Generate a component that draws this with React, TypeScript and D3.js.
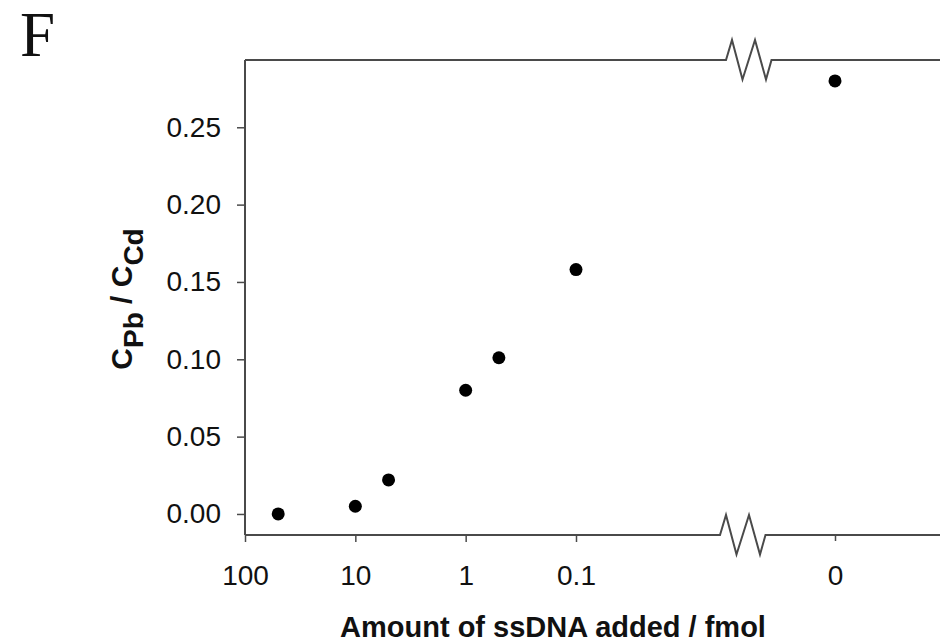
import { useEffect, useRef } from "react";
import * as d3 from "d3";

// ssDNA amount (fmol) and measured C_Pb / C_Cd ratio
const amounts = [50, 10, 5, 1, 0.5, 0.1, 0];
const ratios = [0.0, 0.005, 0.022, 0.08, 0.101, 0.158, 0.28];

const xTickValues = [100, 10, 1, 0.1];
const zeroTick = ["0"];
const yTickValues = [0, 0.05, 0.1, 0.15, 0.2, 0.25];

const App = () => {
  const chartRef = useRef(null);

  useEffect(() => {
    const width = 940;
    const height = 642;
    const left = 245;
    const top = 60;
    const bottom = 535;
    const axisColor = "#4a4a4a";
    const sans = "'Liberation Sans', Arial, sans-serif";

    const svg = d3
      .select(chartRef.current)
      .append("svg")
      .attr("width", width)
      .attr("height", height)
      .style("position", "absolute")
      .style("left", 0)
      .style("top", 0)
      .style("background", "#fff");

    const xLog = d3.scaleLog().domain([100, 0.1]).range([left, 576]);
    const xZero = d3.scalePoint().domain(zeroTick).range([770, 900]);
    const y = d3.scaleLinear().domain([-0.0136, 0.2935]).range([bottom, top]);

    const xPos = (a: number) => (a === 0 ? xZero("0")! : xLog(a));

    // panel letter
    svg
      .append("text")
      .attr("x", 20)
      .attr("y", 56)
      .attr("font-family", "'Liberation Serif', 'Times New Roman', serif")
      .attr("font-size", 63)
      .attr("fill", "#111")
      .text("F");

    // frame lines with axis breaks
    const zig: [number, number][] = [
      [0, 0],
      [6, -20],
      [16.5, 19.5],
      [29, -20],
      [40, 19.5],
      [45.5, 0],
    ];
    const frameLine = d3.line();
    const brokenEdge = (yy: number, breakX: number): [number, number][] => [
      [left, yy],
      ...zig.map(([dx, dy]) => [breakX + dx, yy + dy] as [number, number]),
      [width, yy],
    ];

    svg
      .append("path")
      .attr("d", frameLine(brokenEdge(top, 726)))
      .attr("fill", "none")
      .attr("stroke", axisColor)
      .attr("stroke-width", 2);

    svg
      .append("path")
      .attr("d", frameLine(brokenEdge(bottom, 720)))
      .attr("fill", "none")
      .attr("stroke", axisColor)
      .attr("stroke-width", 2);

    svg
      .append("line")
      .attr("x1", left)
      .attr("x2", left)
      .attr("y1", top)
      .attr("y2", bottom)
      .attr("stroke", axisColor)
      .attr("stroke-width", 2);

    // y axis
    svg
      .append("g")
      .attr("transform", `translate(${left},0)`)
      .call((g: d3.Selection<SVGGElement, unknown, null, undefined>) => {
        g.call(
          d3
            .axisLeft(y)
            .tickValues(yTickValues)
            .tickSize(8)
            .tickPadding(16)
            .tickFormat(d3.format(".2f") as never),
        );
        g.select(".domain").remove();
        g.selectAll(".tick line").attr("stroke", axisColor).attr("stroke-width", 1.5);
        g.selectAll(".tick text")
          .attr("font-family", sans)
          .attr("font-size", 28)
          .attr("fill", "#111");
      });

    // x axis, log part
    svg
      .append("g")
      .attr("transform", `translate(0,${bottom})`)
      .call((g: d3.Selection<SVGGElement, unknown, null, undefined>) => {
        g.call(
          d3
            .axisBottom(xLog)
            .tickValues(xTickValues)
            .tickSize(7)
            .tickPadding(23)
            .tickFormat((d) => String(d)),
        );
        g.select(".domain").remove();
        g.selectAll(".tick line").attr("stroke", axisColor).attr("stroke-width", 1.5);
        g.selectAll(".tick text")
          .attr("font-family", sans)
          .attr("font-size", 28)
          .attr("fill", "#111");
      });

    // x axis, zero part
    svg
      .append("g")
      .attr("transform", `translate(0,${bottom})`)
      .call((g: d3.Selection<SVGGElement, unknown, null, undefined>) => {
        g.call(d3.axisBottom(xZero).tickSize(6).tickPadding(24));
        g.select(".domain").remove();
        g.selectAll(".tick line").attr("stroke", axisColor).attr("stroke-width", 1.5);
        g.selectAll(".tick text")
          .attr("font-family", sans)
          .attr("font-size", 28)
          .attr("fill", "#111");
      });

    // points
    svg
      .append("g")
      .selectAll("circle")
      .data(amounts)
      .join("circle")
      .attr("cx", (d) => xPos(d))
      .attr("cy", (_, i) => y(ratios[i]))
      .attr("r", 6.5)
      .attr("fill", "#000");

    // axis titles
    svg
      .append("text")
      .attr("x", 553)
      .attr("y", 637)
      .attr("text-anchor", "middle")
      .attr("font-family", sans)
      .attr("font-weight", "bold")
      .attr("font-size", 29)
      .attr("fill", "#111")
      .text("Amount of ssDNA added / fmol");

    const yTitle = svg
      .append("text")
      .attr("transform", "translate(132,299) rotate(-90)")
      .attr("text-anchor", "middle")
      .attr("font-family", sans)
      .attr("font-weight", "bold")
      .attr("font-size", 30)
      .attr("fill", "#111");
    yTitle.append("tspan").text("C");
    yTitle.append("tspan").attr("dy", 11).attr("font-size", 28).text("Pb");
    yTitle.append("tspan").attr("dy", -11).text(" / C");
    yTitle.append("tspan").attr("dy", 11).attr("font-size", 28).text("Cd");

    return () => {
      d3.select(chartRef.current).selectAll("*").remove();
    };
  }, []);

  return <div ref={chartRef}></div>;
};

export default App;
